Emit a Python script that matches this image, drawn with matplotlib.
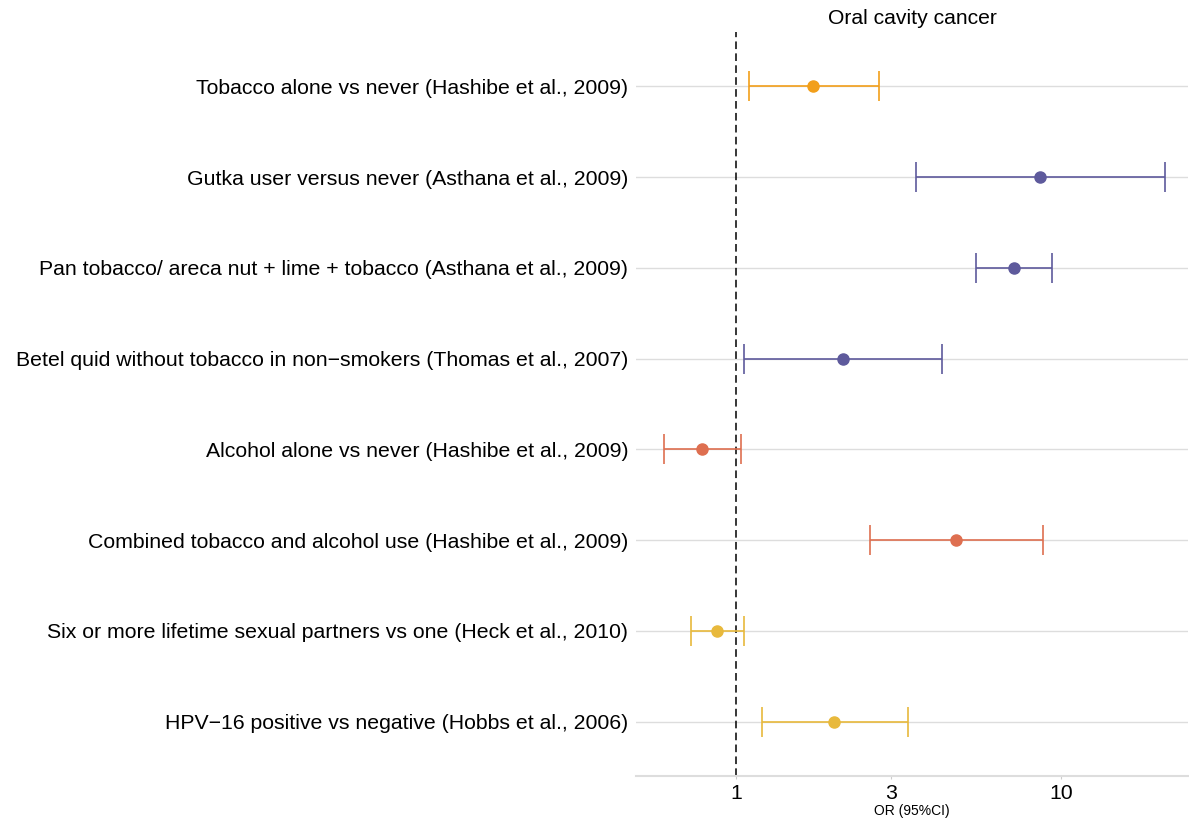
import matplotlib.pyplot as plt
import numpy as np

## data -----------------------------------------------------------------------
labels = [
    'Tobacco alone vs never (Hashibe et al., 2009)',
    'Gutka user versus never (Asthana et al., 2009)',
    'Pan tobacco/ areca nut + lime + tobacco (Asthana et al., 2009)',
    'Betel quid without tobacco in non\u2212smokers (Thomas et al., 2007)',
    'Alcohol alone vs never (Hashibe et al., 2009)',
    'Combined tobacco and alcohol use (Hashibe et al., 2009)',
    'Six or more lifetime sexual partners vs one (Heck et al., 2010)',
    'HPV\u221216 positive vs negative (Hobbs et al., 2006)',
]
odds   = [1.73, 8.65, 7.16, 2.13, 0.787, 4.77, 0.876, 2.00]
ci_low = [1.094, 3.59, 5.48, 1.06, 0.60, 2.59, 0.727, 1.197]
ci_up  = [2.75, 20.9, 9.4, 4.30, 1.035, 8.81, 1.059, 3.39]
groups = ['tob', 'tob2', 'tob2', 'tob2', 'alc', 'alc', 'sex', 'sex']

colours = {'tob': '#F29F1A', 'tob2': '#5E5A9C', 'alc': '#DE6F50', 'sex': '#E8B93C'}

xticks = [1, 3, 10]

## plot -----------------------------------------------------------------------
plt.rcParams['font.family'] = ['Liberation Sans', 'DejaVu Sans']

fig = plt.figure(figsize=(11.89, 8.25), dpi=100)
ax = fig.add_axes([0.535, 0.0594, 0.464, 0.9018])

y = np.arange(len(labels))
for yi in y:
    ax.axhline(yi, color='#DDDDDD', lw=1.0, zorder=0)

ax.axvline(1, color='black', ls=(0, (5, 2.8)), lw=1.1, zorder=1)

for i in range(len(labels)):
    c = colours[groups[i]]
    ax.errorbar(odds[i], y[i], xerr=[[odds[i] - ci_low[i]], [ci_up[i] - odds[i]]],
                fmt='o', color=c, ms=8, elinewidth=1.2, capsize=10.5, capthick=1.2,
                zorder=3)

ax.set_xscale('log')
ax.set_xlim(0.492, 24.6)
ax.set_ylim(7.6, -0.6)
ax.set_xticks(xticks)
ax.set_xticklabels([str(t) for t in xticks])
ax.xaxis.set_minor_locator(plt.NullLocator())
ax.set_yticks(y)
ax.set_yticklabels(labels)
ax.tick_params(axis='y', length=0, labelsize=15.3, colors='black', pad=5.5)
ax.tick_params(axis='x', length=2.5, width=0.8, color='#CCCCCC', labelsize=15.3,
               labelcolor='black', pad=3)

for s in ['top', 'right', 'left']:
    ax.spines[s].set_visible(False)
ax.spines['bottom'].set_color('#DDDDDD')
ax.spines['bottom'].set_linewidth(1.5)

ax.set_xlabel('OR (95%CI)', fontsize=10, labelpad=1)
ax.set_title('Oral cavity cancer', fontsize=15.2, pad=6)

fig.savefig('out.png', dpi=100)
